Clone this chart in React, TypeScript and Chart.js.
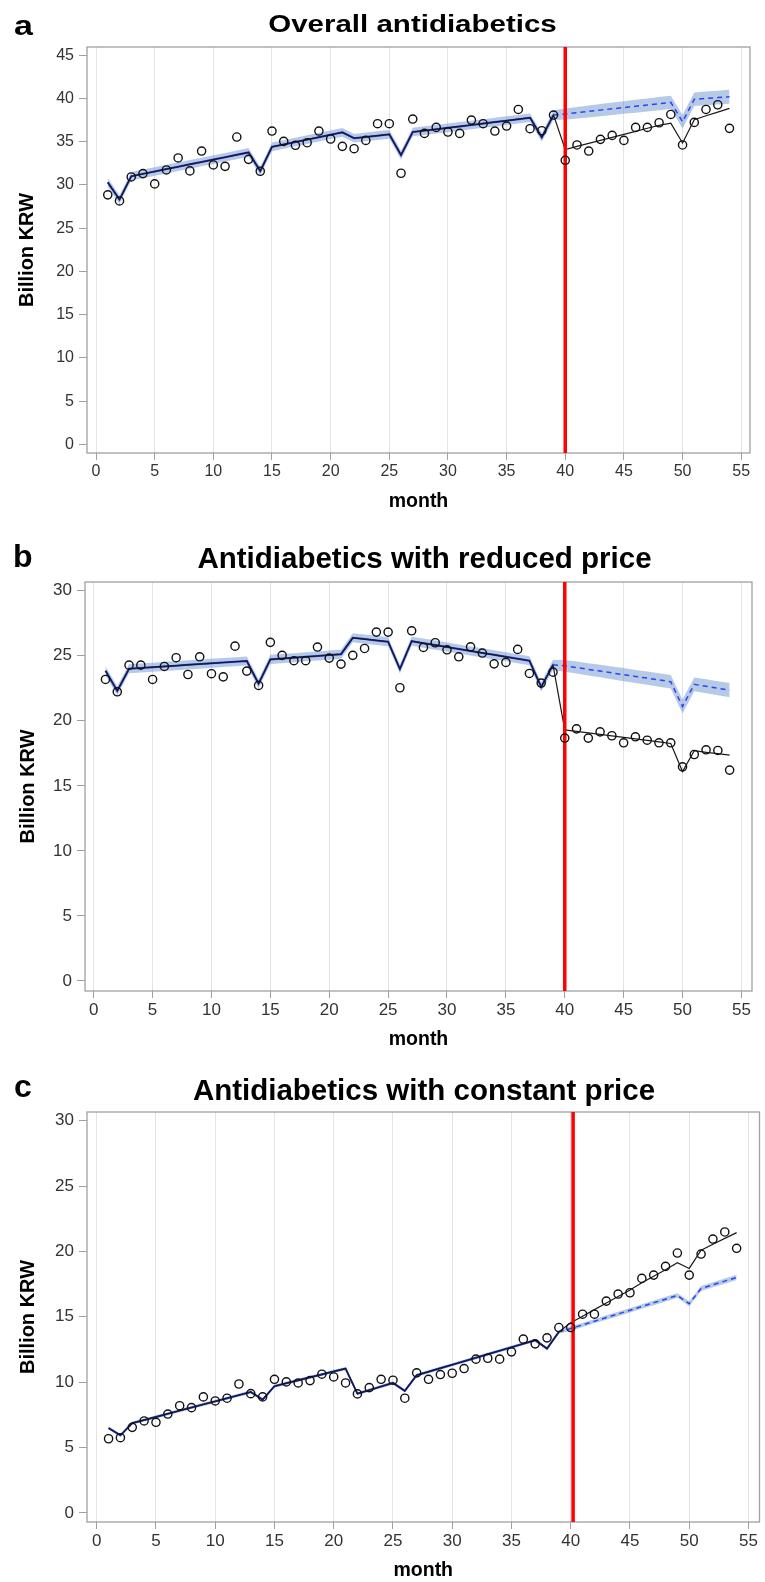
import React, { useEffect, useRef } from "react";
import { Chart, registerables } from "chart.js";

Chart.register(...registerables);

// ---------------- data ----------------
const months = [1, 2, 3, 4, 5, 6, 7, 8, 9, 10, 11, 12, 13, 14, 15, 16, 17, 18, 19, 20, 21, 22, 23, 24, 25, 26, 27, 28, 29, 30, 31, 32, 33, 34, 35, 36, 37, 38, 39, 40, 41, 42, 43, 44, 45, 46, 47, 48, 49, 50, 51, 52, 53, 54];
const cfMonths = [39, 40, 41, 42, 43, 44, 45, 46, 47, 48, 49, 50, 51, 52, 53, 54];
const xTickValues = [0, 5, 10, 15, 20, 25, 30, 35, 40, 45, 50, 55];
const yTickValuesA = [0, 5, 10, 15, 20, 25, 30, 35, 40, 45];
const yTickValuesBC = [0, 5, 10, 15, 20, 25, 30];

// a: Overall antidiabetics
const obsA = [28.85, 28.15, 30.92, 31.31, 30.12, 31.73, 33.12, 31.62, 33.92, 32.31, 32.15, 35.54, 32.96, 31.58, 36.23, 35.04, 34.58, 34.88, 36.23, 35.31, 34.46, 34.19, 35.15, 37.08, 37.08, 31.35, 37.62, 35.96, 36.65, 36.12, 35.96, 37.5, 37.08, 36.23, 36.81, 38.73, 36.5, 36.27, 38.08, 32.85, 34.62, 33.92, 35.27, 35.73, 35.15, 36.65, 36.65, 37.19, 38.15, 34.62, 37.23, 38.73, 39.27, 36.54];
const fitA = [30.3, 28.3, 31.0, 31.28, 31.55, 31.83, 32.1, 32.38, 32.65, 32.93, 33.2, 33.48, 33.76, 31.6, 34.4, 34.68, 34.96, 35.24, 35.52, 35.8, 36.08, 35.4, 35.55, 35.7, 35.85, 33.45, 36.12, 36.28, 36.44, 36.6, 36.77, 36.93, 37.1, 37.27, 37.43, 37.6, 37.77, 35.5, 38.08, 34.1, 34.45, 34.8, 35.15, 35.5, 35.85, 36.2, 36.55, 36.88, 37.15, 34.85, 37.55, 38.0, 38.42, 38.85];
const cfA = [38.08, 38.2, 38.35, 38.5, 38.65, 38.8, 38.95, 39.1, 39.25, 39.4, 39.55, 37.3, 39.9, 40.0, 40.1, 40.2];
const bandHalfA = [0.5, 0.5, 0.5, 0.5, 0.5, 0.5, 0.5, 0.5, 0.5, 0.5, 0.5, 0.5, 0.5, 0.5, 0.5, 0.5, 0.5, 0.5, 0.5, 0.5, 0.5, 0.5, 0.5, 0.5, 0.5, 0.5, 0.5, 0.5, 0.5, 0.5, 0.5, 0.5, 0.5, 0.5, 0.5, 0.5, 0.5, 0.5, 0.55, 0.65, 0.67, 0.69, 0.7, 0.72, 0.73, 0.74, 0.75, 0.76, 0.77, 0.78, 0.78, 0.79, 0.8, 0.8];

// b: Antidiabetics with reduced price
const obsB = [23.18, 22.23, 24.28, 24.28, 23.18, 24.18, 24.85, 23.56, 24.92, 23.62, 23.38, 25.74, 23.82, 22.72, 26.03, 25.03, 24.62, 24.62, 25.67, 24.82, 24.36, 25.03, 25.56, 26.82, 26.82, 22.54, 26.92, 25.64, 26.0, 25.46, 24.92, 25.69, 25.21, 24.38, 24.49, 25.49, 23.64, 22.9, 23.74, 18.67, 19.38, 18.67, 19.15, 18.85, 18.31, 18.77, 18.51, 18.31, 18.31, 16.46, 17.41, 17.77, 17.72, 16.21];
const fitB = [23.85, 22.3, 24.0, 24.06, 24.12, 24.18, 24.24, 24.3, 24.36, 24.42, 24.48, 24.54, 24.6, 22.85, 24.72, 24.78, 24.85, 24.92, 24.98, 25.05, 25.12, 26.38, 26.28, 26.18, 26.08, 23.98, 26.12, 25.97, 25.82, 25.67, 25.52, 25.37, 25.22, 25.07, 24.92, 24.77, 24.62, 22.6, 24.3, 19.3, 19.19, 19.07, 18.96, 18.84, 18.73, 18.61, 18.5, 18.38, 18.26, 16.1, 17.7, 17.58, 17.47, 17.36];
const cfB = [24.3, 24.23, 24.09, 23.95, 23.82, 23.68, 23.55, 23.41, 23.28, 23.14, 23.0, 21.1, 22.8, 22.65, 22.5, 22.36];
const bandHalfB = [0.35, 0.35, 0.35, 0.35, 0.35, 0.35, 0.35, 0.35, 0.35, 0.35, 0.35, 0.35, 0.35, 0.35, 0.35, 0.35, 0.35, 0.35, 0.35, 0.35, 0.35, 0.35, 0.35, 0.35, 0.35, 0.35, 0.35, 0.35, 0.35, 0.35, 0.35, 0.35, 0.35, 0.35, 0.35, 0.35, 0.35, 0.35, 0.4, 0.45, 0.46, 0.47, 0.48, 0.49, 0.5, 0.5, 0.51, 0.52, 0.52, 0.53, 0.53, 0.54, 0.54, 0.55];

// c: Antidiabetics with constant price
const obsC = [5.67, 5.75, 6.54, 7.03, 6.93, 7.56, 8.2, 8.05, 8.87, 8.56, 8.77, 9.86, 9.12, 8.87, 10.22, 10.02, 9.94, 10.12, 10.61, 10.4, 9.94, 9.1, 9.58, 10.22, 10.15, 8.77, 10.71, 10.22, 10.58, 10.68, 11.04, 11.76, 11.83, 11.76, 12.32, 13.29, 12.93, 13.39, 14.18, 14.18, 15.2, 15.2, 16.2, 16.74, 16.84, 17.94, 18.19, 18.86, 19.88, 18.19, 19.8, 20.95, 21.49, 20.24];
const fitC = [6.49, 5.93, 6.87, 7.1, 7.34, 7.58, 7.82, 8.06, 8.3, 8.53, 8.77, 9.01, 9.25, 8.66, 9.69, 9.92, 10.14, 10.37, 10.59, 10.82, 11.04, 9.12, 9.39, 9.67, 9.94, 9.33, 10.53, 10.8, 11.07, 11.33, 11.6, 11.87, 12.14, 12.4, 12.67, 12.94, 13.21, 12.57, 13.85, 14.55, 15.05, 15.55, 16.05, 16.55, 17.05, 17.6, 18.1, 18.6, 19.14, 18.7, 20.1, 20.55, 21.0, 21.44];
const cfC = [13.85, 14.1, 14.38, 14.66, 14.94, 15.22, 15.5, 15.79, 16.07, 16.35, 16.63, 16.0, 17.17, 17.45, 17.73, 18.01];
const bandHalfC = [0.12, 0.12, 0.12, 0.12, 0.12, 0.12, 0.12, 0.12, 0.12, 0.12, 0.12, 0.12, 0.12, 0.12, 0.12, 0.12, 0.12, 0.12, 0.12, 0.12, 0.12, 0.12, 0.12, 0.12, 0.12, 0.12, 0.12, 0.12, 0.12, 0.12, 0.12, 0.12, 0.12, 0.12, 0.12, 0.12, 0.12, 0.12, 0.14, 0.16, 0.16, 0.16, 0.17, 0.17, 0.17, 0.18, 0.18, 0.18, 0.18, 0.19, 0.19, 0.19, 0.2, 0.2];

const interventionMonths = [40, 40, 40.2];

// ---------------- layout / style ----------------
const FONT = '"Liberation Sans", Arial, Helvetica, sans-serif';

type Panel = {
  letter: string;
  title: string;
  obs: number[];
  fit: number[];
  cf: number[];
  half: number[];
  interv: number;
  top: number;
  height: number;
  area: { left: number; top: number; right: number; bottom: number };
  xMin: number;
  xMax: number;
  yMin: number;
  yMax: number;
  yTicks: number[];
  tickSize: number;
  letterX: number;
  letterBase: number;
  letterSize: number;
  titleX: number;
  titleBase: number;
  textSY: number;
  xTitlePad: number;
  yTitlePad: number;
};

const panels: Panel[] = [
  {
    letter: "a", title: "Overall antidiabetics", obs: obsA, fit: fitA, cf: cfA, half: bandHalfA, interv: interventionMonths[0],
    top: 0, height: 520, area: { left: 87, top: 47, right: 750, bottom: 453 },
    xMin: -0.77, xMax: 55.75, yMin: -1.0, yMax: 45.95, yTicks: yTickValuesA, tickSize: 16,
    letterX: 14, letterBase: 35, letterSize: 34, titleX: 412.5, titleBase: 32, textSY: 0.84,
    xTitlePad: 8.5, yTitlePad: 17,
  },
  {
    letter: "b", title: "Antidiabetics with reduced price", obs: obsB, fit: fitB, cf: cfB, half: bandHalfB, interv: interventionMonths[1],
    top: 520, height: 540, area: { left: 85, top: 62, right: 752, bottom: 471 },
    xMin: -0.74, xMax: 55.9, yMin: -0.77, yMax: 30.67, yTicks: yTickValuesBC, tickSize: 17,
    letterX: 13, letterBase: 47, letterSize: 32, titleX: 424.5, titleBase: 48, textSY: 1,
    xTitlePad: 10.5, yTitlePad: 18,
  },
  {
    letter: "c", title: "Antidiabetics with constant price", obs: obsC, fit: fitC, cf: cfC, half: bandHalfC, interv: interventionMonths[2],
    top: 1050, height: 532, area: { left: 87, top: 62, right: 764, bottom: 472 },
    xMin: -0.82, xMax: 55.93, yMin: -0.7, yMax: 30.67, yTicks: yTickValuesBC, tickSize: 17,
    letterX: 14, letterBase: 47, letterSize: 32, titleX: 424, titleBase: 50, textSY: 1,
    xTitlePad: 1.5, yTitlePad: 18,
  },
];

function makeDecor(p: Panel) {
  return {
    id: "decor" + p.letter,
    beforeDatasetsDraw(chart: any) {
      const { ctx, chartArea: a } = chart;
      ctx.save();
      ctx.strokeStyle = "#9da2a7";
      ctx.lineWidth = 1.3;
      ctx.strokeRect(a.left, a.top, a.right - a.left, a.bottom - a.top);
      ctx.restore();
    },
    afterDraw(chart: any) {
      const ctx = chart.ctx;
      ctx.save();
      ctx.fillStyle = "#000";
      ctx.textBaseline = "alphabetic";
      ctx.textAlign = "left";
      ctx.font = `bold ${p.letterSize}px ${FONT}`;
      ctx.translate(p.letterX, p.letterBase);
      ctx.scale(1, p.textSY);
      ctx.fillText(p.letter, 0, 0);
      ctx.restore();

      ctx.save();
      ctx.fillStyle = "#000";
      ctx.textBaseline = "alphabetic";
      ctx.textAlign = "center";
      ctx.font = `bold 29.5px ${FONT}`;
      ctx.translate(p.titleX, p.titleBase);
      ctx.scale(1, p.textSY);
      ctx.fillText(p.title, 0, 0);
      ctx.restore();
    },
  };
}

function PanelChart({ p }: { p: Panel }) {
  const ref = useRef<HTMLCanvasElement | null>(null);

  useEffect(() => {
    const canvas = ref.current;
    if (!canvas) return;
    const bandCenter = months.map((m, i) => (m < cfMonths[0] ? p.fit[i] : p.cf[cfMonths.indexOf(m)]));
    const pts = (xs: number[], ys: number[]) => xs.map((x, i) => ({ x, y: ys[i] }));
    const preMonths = months.filter((m) => m <= cfMonths[0]);

    const chart = new Chart(canvas, {
      type: "scatter",
      data: {
        datasets: [
          {
            type: "line",
            data: months.map((m, i) => ({ x: m, y: bandCenter[i] - p.half[i] })),
            borderWidth: 0,
            borderColor: "rgba(0,0,0,0)",
            pointRadius: 0,
            fill: false,
            order: 7,
          },
          {
            type: "line",
            data: months.map((m, i) => ({ x: m, y: bandCenter[i] + p.half[i] })),
            borderWidth: 0,
            borderColor: "rgba(0,0,0,0)",
            backgroundColor: "rgba(110,150,210,0.5)",
            pointRadius: 0,
            fill: "-1",
            order: 6,
          },
          {
            type: "line",
            data: pts(preMonths, p.fit),
            borderColor: "#1f33e0",
            borderWidth: 2,
            pointRadius: 0,
            fill: false,
            order: 4,
          },
          {
            type: "line",
            data: pts(months, p.fit),
            borderColor: "#1a1a1a",
            borderWidth: 1.2,
            pointRadius: 0,
            fill: false,
            order: 3,
          },
          {
            type: "line",
            data: pts(cfMonths, p.cf),
            borderColor: "#2a45f0",
            borderWidth: 1.5,
            borderDash: [5, 4],
            pointRadius: 0,
            fill: false,
            order: 2,
          },
          {
            type: "line",
            data: [
              { x: p.interv, y: p.yMin },
              { x: p.interv, y: p.yMax },
            ],
            borderColor: "#ff0000",
            borderWidth: 3.5,
            pointRadius: 0,
            fill: false,
            order: 1,
          },
          {
            type: "scatter",
            data: pts(months, p.obs),
            pointRadius: 4.1,
            pointBorderWidth: 1.4,
            borderColor: "#111",
            backgroundColor: "rgba(0,0,0,0)",
            pointBackgroundColor: "rgba(0,0,0,0)",
            pointBorderColor: "#111",
            order: 0,
          },
        ],
      } as any,
      options: {
        responsive: false,
        maintainAspectRatio: false,
        animation: false,
        devicePixelRatio: 1,
        layout: { padding: { left: 0, top: p.area.top, right: 765 - p.area.right, bottom: 0 } },
        plugins: {
          legend: { display: false },
          tooltip: { enabled: false },
          title: { display: false },
        },
        scales: {
          x: {
            type: "linear",
            min: p.xMin,
            max: p.xMax,
            afterBuildTicks: (s: any) => {
              s.ticks = xTickValues.map((v) => ({ value: v }));
            },
            afterFit: (s: any) => {
              s.height = p.height - p.area.bottom;
            },
            ticks: {
              autoSkip: false,
              maxRotation: 0,
              padding: 2,
              color: "#333",
              font: { family: FONT, size: p.tickSize },
            },
            grid: {
              color: "#e3e3e3",
              lineWidth: 1,
              drawTicks: true,
              tickLength: 7,
              tickColor: "#a0a0a0",
              tickWidth: 1,
            },
            border: { display: false },
            title: {
              display: true,
              text: "month",
              color: "#000",
              font: { family: FONT, size: 19.5, weight: "bold", lineHeight: 1 },
              padding: { top: 0, bottom: p.xTitlePad },
            },
          },
          y: {
            type: "linear",
            min: p.yMin,
            max: p.yMax,
            afterBuildTicks: (s: any) => {
              s.ticks = p.yTicks.map((v) => ({ value: v }));
            },
            afterFit: (s: any) => {
              s.width = p.area.left;
            },
            ticks: {
              padding: 5,
              color: "#333",
              font: { family: FONT, size: p.tickSize },
            },
            grid: {
              drawOnChartArea: false,
              drawTicks: true,
              tickLength: 8,
              tickColor: "#a0a0a0",
              tickWidth: 1,
            },
            border: { display: false },
            title: {
              display: true,
              text: "Billion KRW",
              color: "#000",
              font: { family: FONT, size: 20, weight: "bold", lineHeight: 1 },
              padding: { top: p.yTitlePad, bottom: 0 },
            },
          },
        },
      } as any,
      plugins: [makeDecor(p)],
    });
    return () => chart.destroy();
  }, [p]);

  return (
    <canvas
      ref={ref}
      width={765}
      height={p.height}
      style={{ position: "absolute", left: 0, top: p.top, width: 765, height: p.height }}
    />
  );
}

export default function App() {
  return (
    <div style={{ position: "absolute", left: 0, top: 0, width: 765, height: 1582, background: "#fff", overflow: "hidden" }}>
      {panels.map((p) => (
        <PanelChart key={p.letter} p={p} />
      ))}
    </div>
  );
}
